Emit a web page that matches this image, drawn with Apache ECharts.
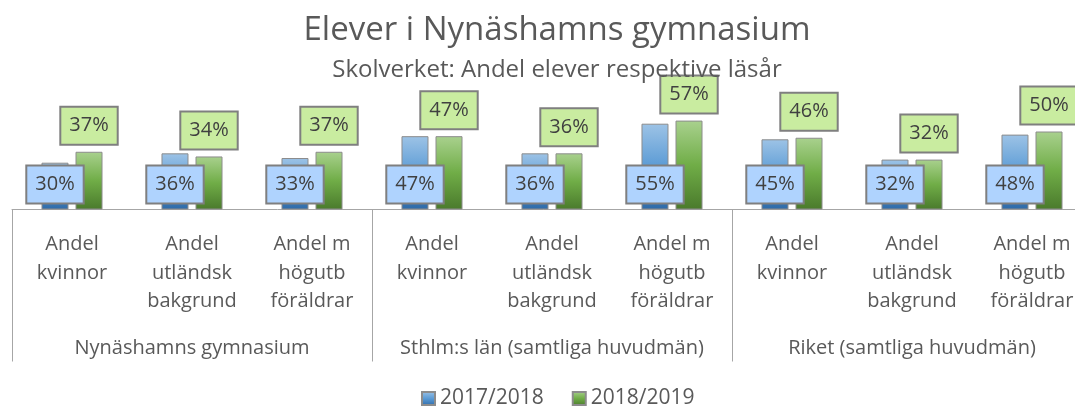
<!DOCTYPE html>
<html>
<head>
<meta charset="utf-8">
<script src="https://cdn.jsdelivr.net/npm/echarts@6/dist/echarts.min.js"></script>
<style>
  body { margin: 0; background: #fff; }
  #chart { width: 1075px; height: 406px; }
</style>
</head>
<body>
<div id="chart"></div>
<script>
// kategorier (nedre nivå) och grupper (övre nivå)
var categories = [
  "Andel\nkvinnor", "Andel\nutländsk\nbakgrund", "Andel m\nhögutb\nföräldrar",
  "Andel\nkvinnor", "Andel\nutländsk\nbakgrund", "Andel m\nhögutb\nföräldrar",
  "Andel\nkvinnor", "Andel\nutländsk\nbakgrund", "Andel m\nhögutb\nföräldrar"
];
var groups = ["Nynäshamns gymnasium", "Sthlm:s län (samtliga huvudmän)", "Riket (samtliga huvudmän)"];

var seriesNames = ["2017/2018", "2018/2019"];
var values1718 = [0.30, 0.36, 0.33, 0.47, 0.36, 0.55, 0.45, 0.32, 0.48];
var values1819 = [0.37, 0.34, 0.37, 0.47, 0.36, 0.57, 0.46, 0.32, 0.50];

var FONT = "Open Sans";
var textColor = "#595959";

var chart = echarts.init(document.getElementById("chart"));

function pct(p) {
  return Math.round(p.value * 100) + "%";
}

var labelBox = {
  show: true,
  formatter: pct,
  fontFamily: FONT,
  fontSize: 20,
  color: "#404040",
  borderColor: "#7f7f7f",
  borderWidth: 2,
  padding: [6, 8, 6, 8],
  lineHeight: 24
};

chart.setOption({
  animation: false,
  title: {
    text: "Elever i Nynäshamns gymnasium",
    subtext: "Skolverket: Andel elever respektive läsår",
    left: 552,
    textAlign: "center",
    top: 9,
    itemGap: 11,
    textStyle: { fontFamily: FONT, fontSize: 33, fontWeight: "normal", color: textColor },
    subtextStyle: { fontFamily: FONT, fontSize: 24, color: textColor }
  },
  legend: {
    data: seriesNames,
    left: 416,
    bottom: -8,
    icon: "rect",
    itemWidth: 13,
    itemHeight: 13,
    itemGap: 28,
    textStyle: { fontFamily: FONT, fontSize: 21, color: textColor }
  },
  grid: {
    left: 12,
    top: 53.5,
    width: 1080,
    height: 156,
    containLabel: false,
    outerBoundsMode: "none"
  },
  xAxis: [
    {
      type: "category",
      data: categories,
      position: "bottom",
      axisLine: { show: true, lineStyle: { color: "#a6a6a6", width: 1 } },
      axisTick: { show: false },
      axisLabel: {
        interval: 0,
        margin: 21,
        fontFamily: FONT,
        fontSize: 20,
        lineHeight: 28.5,
        color: textColor
      }
    },
    {
      type: "category",
      data: groups,
      position: "bottom",
      axisLine: { show: false },
      axisTick: { show: true, length: 152, lineStyle: { color: "#a6a6a6" } },
      axisLabel: {
        interval: 0,
        margin: 129,
        fontFamily: FONT,
        fontSize: 20,
        color: textColor
      }
    }
  ],
  yAxis: {
    type: "value",
    min: 0,
    max: 1,
    show: false,
    splitLine: { show: false }
  },
  series: [
    {
      name: seriesNames[0],
      type: "bar",
      xAxisIndex: 0,
      data: values1718,
      barWidth: 27,
      barGap: "26%",
      itemStyle: {
        borderColor: "#8c8c8c",
        borderWidth: 1,
        color: new echarts.graphic.LinearGradient(0, 0, 0, 1, [
          { offset: 0, color: "#9dc3e6" },
          { offset: 0.5, color: "#5b9bd5" },
          { offset: 1, color: "#2e6aa8" }
        ])
      },
      label: Object.assign({}, labelBox, {
        position: "insideBottom",
        distance: 7,
        backgroundColor: "#afd3fe"
      })
    },
    {
      name: seriesNames[1],
      type: "bar",
      xAxisIndex: 0,
      data: values1819,
      barWidth: 27,
      barGap: "26%",
      itemStyle: {
        borderColor: "#8c8c8c",
        borderWidth: 1,
        color: new echarts.graphic.LinearGradient(0, 0, 0, 1, [
          { offset: 0, color: "#a9d18e" },
          { offset: 0.5, color: "#70ad47" },
          { offset: 1, color: "#4a7a2c" }
        ])
      },
      label: Object.assign({}, labelBox, {
        position: "top",
        distance: 8,
        backgroundColor: "#c9eca0"
      })
    }
  ]
});
</script>
</body>
</html>
